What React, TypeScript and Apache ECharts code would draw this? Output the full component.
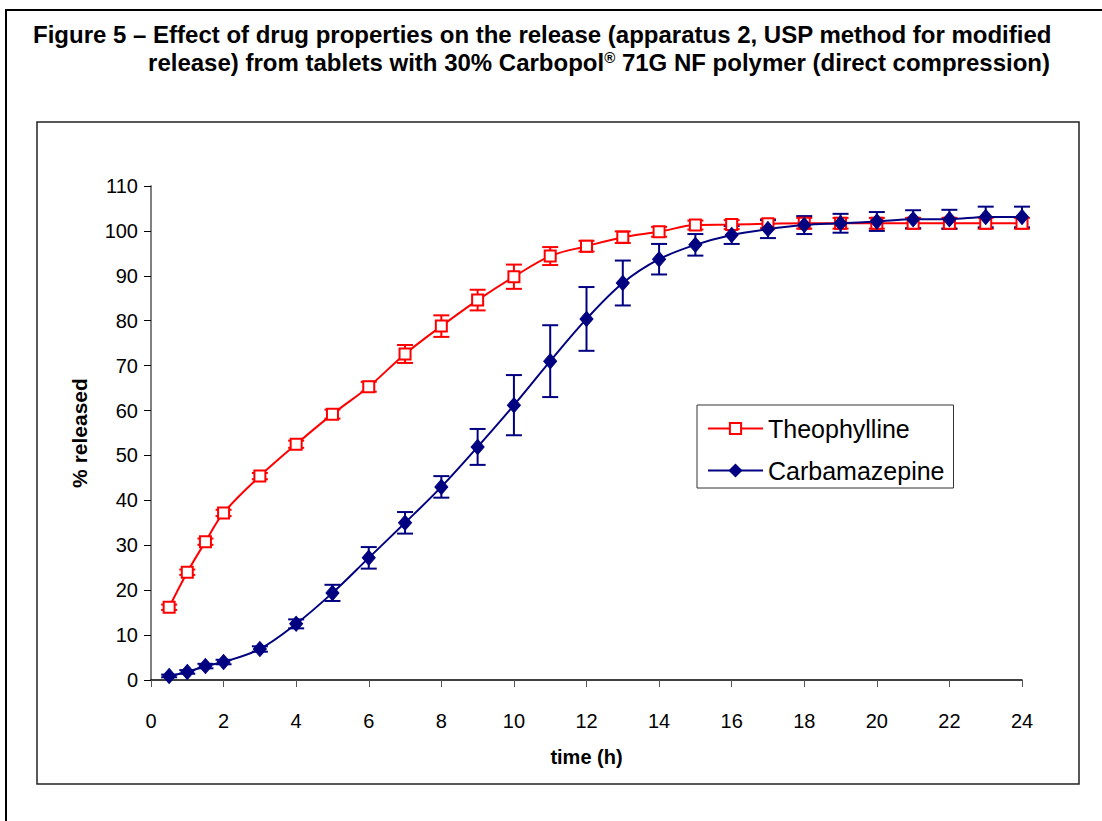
import React, { useEffect, useRef } from "react";
import * as echarts from "echarts";

const times = [0.5, 1, 1.5, 2, 3, 4, 5, 6, 7, 8, 9, 10, 11, 12, 13, 14, 15, 16, 17, 18, 19, 20, 21, 22, 23, 24];
const theophylline = [16.2, 24.0, 30.8, 37.2, 45.4, 52.5, 59.2, 65.3, 72.6, 78.8, 84.6, 89.8, 94.4, 96.6, 98.6, 99.8, 101.3, 101.4, 101.6, 101.7, 101.7, 101.7, 101.7, 101.7, 101.7, 101.7];
const theophyllineErr = [0.6, 0.6, 0.7, 0.7, 0.7, 0.8, 1.0, 1.1, 2.0, 2.4, 2.3, 2.7, 2.0, 1.2, 1.3, 1.1, 1.0, 1.0, 1.0, 1.2, 1.2, 1.2, 1.2, 1.2, 1.2, 1.2];
const carbamazepine = [0.9, 1.8, 3.1, 4.0, 6.9, 12.5, 19.4, 27.2, 35.0, 43.0, 51.9, 61.2, 71.0, 80.4, 88.4, 93.7, 96.9, 99.1, 100.4, 101.3, 101.7, 102.1, 102.6, 102.6, 103.1, 103.1];
const carbamazepineErr = [0.3, 0.4, 0.5, 0.5, 0.6, 1.0, 1.8, 2.4, 2.4, 2.4, 4.0, 6.7, 8.0, 7.1, 5.0, 3.4, 2.4, 2.0, 2.0, 2.0, 2.1, 2.1, 2.0, 2.1, 2.3, 2.3];

const titleLine1 = "Figure 5 \u2013 Effect of drug properties on the release (apparatus 2, USP method for modified";
const titleLine2 = "release) from tablets with 30% Carbopol{sup|\u00AE} 71G NF polymer (direct compression)";
const xName = "time (h)";
const yName = "% released";

const FONT = '"Liberation Sans", Arial, Helvetica, sans-serif';
const RED = "#ff0000";
const NAVY = "#000080";

function errorSeries(name: string, values: number[], errs: number[], color: string) {
  const data = times.map((t, i) => [t, values[i] - errs[i], values[i] + errs[i]]);
  return {
    type: "custom",
    name,
    data,
    encode: { x: 0, y: [1, 2] },
    silent: true,
    renderItem: (params: any, api: any) => {
      const x = api.value(0);
      const lo = api.coord([x, api.value(1)]);
      const hi = api.coord([x, api.value(2)]);
      const w = 8;
      const style = { stroke: color, lineWidth: 2, fill: "none" };
      return {
        type: "group",
        children: [
          { type: "line", shape: { x1: hi[0], y1: hi[1], x2: lo[0], y2: lo[1] }, style },
          { type: "line", shape: { x1: hi[0] - w, y1: hi[1], x2: hi[0] + w, y2: hi[1] }, style },
          { type: "line", shape: { x1: lo[0] - w, y1: lo[1], x2: lo[0] + w, y2: lo[1] }, style },
        ],
      };
    },
  };
}

export default function App() {
  const ref = useRef<HTMLDivElement>(null);
  useEffect(() => {
    if (!ref.current) return;
    const chart = echarts.init(ref.current, undefined, { renderer: "svg" });
    chart.setOption({
      animation: false,
      backgroundColor: "#ffffff",
      textStyle: { fontFamily: FONT },
      title: [
        {
          text: titleLine1,
          left: 33,
          top: 22,
          padding: 0,
          textStyle: { fontFamily: FONT, fontSize: 24, fontWeight: "bold", color: "#000" },
        },
        {
          text: titleLine2,
          right: 52,
          top: 50,
          padding: 0,
          textStyle: {
            fontFamily: FONT,
            fontSize: 24,
            fontWeight: "bold",
            color: "#000",
            rich: {
              sup: { fontFamily: FONT, fontSize: 15, fontWeight: "bold", color: "#000", verticalAlign: "top" },
            },
          },
        },
      ],
      graphic: [
        {
          type: "rect",
          shape: { x: 6, y: 10, width: 1200, height: 900 },
          style: { fill: "none", stroke: "#000", lineWidth: 2 },
          silent: true,
        },
        {
          type: "rect",
          shape: { x: 37, y: 122, width: 1042, height: 662 },
          style: { fill: "none", stroke: "#222", lineWidth: 1.5 },
          silent: true,
        },
      ],
      legend: {
        orient: "vertical",
        left: 697,
        top: 405,
        data: ["Theophylline", "Carbamazepine"],
        itemWidth: 55,
        itemHeight: 14,
        itemGap: 17,
        padding: [11, 9, 5, 10],
        borderColor: "#333",
        borderWidth: 1,
        backgroundColor: "#fff",
        textStyle: { fontFamily: FONT, fontSize: 25, color: "#000" },
      },
      grid: { left: 151, right: 80, top: 186, bottom: 141, containLabel: false },
      xAxis: {
        type: "value",
        min: 0,
        max: 24,
        interval: 2,
        name: xName,
        nameLocation: "middle",
        nameGap: 67,
        nameTextStyle: { fontFamily: FONT, fontSize: 20, fontWeight: "bold", color: "#000" },
        splitLine: { show: false },
        axisLine: { lineStyle: { color: "#000", width: 1.5 } },
        axisTick: { show: true, inside: false, length: 7, lineStyle: { color: "#555", width: 1 } },
        axisLabel: { fontFamily: FONT, fontSize: 20, color: "#000", margin: 31 },
      },
      yAxis: {
        type: "value",
        min: 0,
        max: 110,
        interval: 10,
        name: yName,
        nameLocation: "middle",
        nameGap: 61,
        nameTextStyle: { fontFamily: FONT, fontSize: 21, fontWeight: "bold", color: "#000" },
        splitLine: { show: false },
        axisLine: { show: true, lineStyle: { color: "#808080", width: 2 } },
        axisTick: { show: true, inside: false, length: 7, lineStyle: { color: "#000", width: 1 } },
        axisLabel: { fontFamily: FONT, fontSize: 20, color: "#000", margin: 13 },
      },
      series: [
        {
          type: "line",
          name: "Theophylline",
          data: times.map((t, i) => [t, theophylline[i]]),
          smooth: 0.35,
          symbol: "rect",
          symbolSize: 11,
          lineStyle: { color: RED, width: 2 },
          itemStyle: { color: "#ffffff", borderColor: RED, borderWidth: 2 },
        },
        errorSeries("Theophylline SD", theophylline, theophyllineErr, RED),
        {
          type: "line",
          name: "Carbamazepine",
          data: times.map((t, i) => [t, carbamazepine[i]]),
          smooth: 0.35,
          symbol: "diamond",
          symbolSize: [13, 15],
          lineStyle: { color: NAVY, width: 2 },
          itemStyle: { color: NAVY, borderColor: NAVY, borderWidth: 1 },
        },
        errorSeries("Carbamazepine SD", carbamazepine, carbamazepineErr, NAVY),
      ],
    });
    return () => chart.dispose();
  }, []);
  return (
    <div
      ref={ref}
      style={{ position: "fixed", left: 0, top: 0, width: 1102, height: 821, background: "#fff" }}
    />
  );
}
